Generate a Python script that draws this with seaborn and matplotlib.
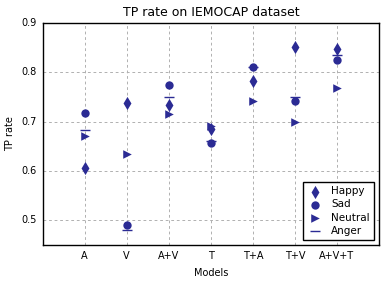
import matplotlib
matplotlib.use("Agg")
import matplotlib.pyplot as plt
import pandas as pd
import seaborn as sns

models = ["A", "V", "A+V", "T", "T+A", "T+V", "A+V+T"]
happy = [0.605, 0.738, 0.733, 0.685, 0.782, 0.851, 0.847]
sad = [0.717, 0.490, 0.774, 0.657, 0.810, 0.742, 0.824]
neutral = [0.670, 0.634, 0.715, 0.690, 0.742, 0.700, 0.767]
anger = [0.682, 0.480, 0.750, 0.661, 0.810, 0.749, 0.834]

series = {"Happy": happy, "Sad": sad, "Neutral": neutral, "Anger": anger}
markers = {"Happy": "d", "Sad": "o", "Neutral": ">", "Anger": "_"}
sizes = {"Happy": 45, "Sad": 36, "Neutral": 38, "Anger": 45}

rows = []
for name, vals in series.items():
    for i, v in enumerate(vals):
        rows.append({"pos": i, "rate": v, "emotion": name})
df = pd.DataFrame(rows)

plt.style.use("classic")
plt.rcParams.update({
    "font.family": ["DejaVu Sans"],
    "font.size": 7,
    "axes.titlesize": 9,
    "axes.labelsize": 7,
    "figure.facecolor": "white",
})

fig = plt.figure(figsize=(3.84, 2.81), dpi=100)
ax = fig.add_axes([0.111, 0.128, 0.876, 0.791])
color = "#2b2b94"

for name in series:
    sub = df[df["emotion"] == name]
    lw = 1.0 if name == "Anger" else 0.0
    sns.scatterplot(data=sub, x="pos", y="rate", marker=markers[name],
                    s=sizes[name], color=color, edgecolor=color,
                    linewidth=lw, label=name, ax=ax, zorder=3)

ax.set_xlim(-1, 7)
ax.set_ylim(0.45, 0.9)
ax.set_xticks(range(len(models)))
ax.set_xticklabels(models)
ax.set_yticks([0.5, 0.6, 0.7, 0.8, 0.9])
ax.grid(True, color="#b0b0b0", linestyle=(0, (2, 2)), linewidth=0.7)
ax.set_axisbelow(True)
ax.set_title("TP rate on IEMOCAP dataset")
ax.set_xlabel("Models")
ax.set_ylabel("TP rate")
ax.tick_params(labelsize=7, length=0)

leg = ax.legend(loc="lower right", scatterpoints=1, fontsize=7.5,
                fancybox=False, frameon=True, borderpad=0.4,
                labelspacing=0.3, handlelength=1.5, markerscale=1.0)
leg.get_frame().set_edgecolor("black")

fig.savefig("out.png", dpi=100)
